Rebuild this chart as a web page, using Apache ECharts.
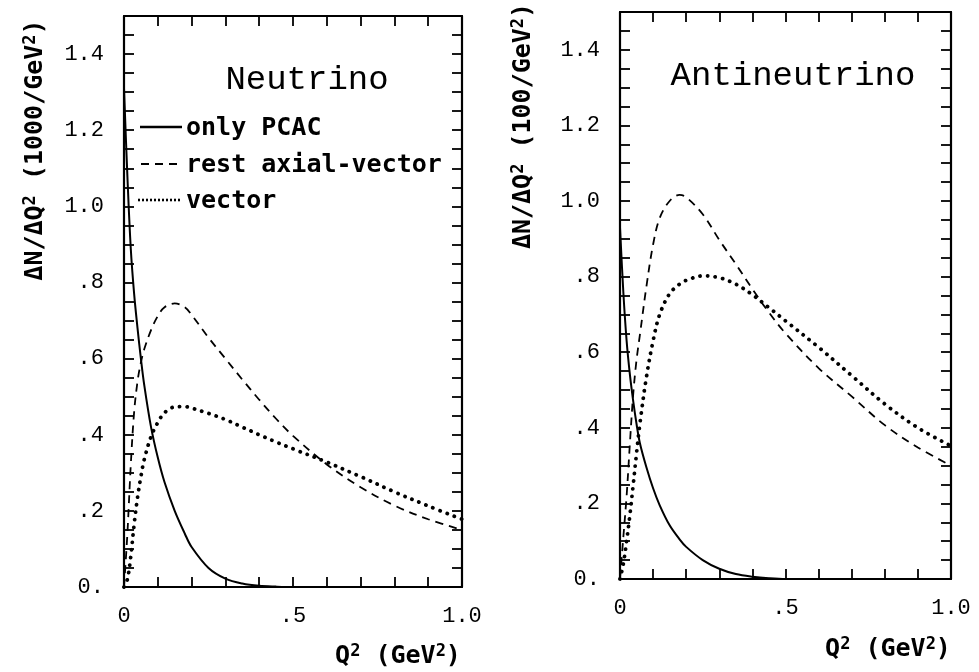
<!DOCTYPE html>
<html>
<head>
<meta charset="utf-8">
<script src="https://cdn.jsdelivr.net/npm/echarts@6/dist/echarts.min.js"></script>
<style>
  html, body { margin: 0; padding: 0; background: #fff; }
  #chart { width: 979px; height: 672px; }
</style>
</head>
<body>
<div id="chart"></div>
<script>
// Q^2 sample points (GeV^2), shared by all curves
var q2 = [0, 0.01, 0.02, 0.03, 0.04, 0.05, 0.06, 0.08, 0.10, 0.12, 0.15, 0.18, 0.20, 0.25, 0.30, 0.35, 0.40, 0.45, 0.50, 0.60, 0.70, 0.80, 0.90, 1.00];

// Neutrino panel
var nuPcac   = [1.31, 1.08, 0.89, 0.77, 0.68, 0.60, 0.53, 0.42, 0.34, 0.275, 0.20, 0.14, 0.105, 0.05, 0.022, 0.009, 0.003, 0.001, 0, 0, 0, 0, 0, 0];
var nuAxial  = [0, 0.14, 0.32, 0.46, 0.54, 0.59, 0.625, 0.675, 0.712, 0.735, 0.745, 0.735, 0.715, 0.655, 0.6, 0.545, 0.492, 0.442, 0.397, 0.322, 0.262, 0.214, 0.178, 0.15];
var nuVector = [0, 0.02, 0.08, 0.165, 0.235, 0.29, 0.335, 0.395, 0.432, 0.458, 0.473, 0.474, 0.47, 0.456, 0.44, 0.42, 0.40, 0.381, 0.363, 0.328, 0.29, 0.25, 0.213, 0.178];

// Antineutrino panel
var anuPcac   = [0.93, 0.76, 0.63, 0.54, 0.47, 0.41, 0.36, 0.295, 0.24, 0.195, 0.142, 0.105, 0.085, 0.05, 0.027, 0.013, 0.006, 0.002, 0, 0, 0, 0, 0, 0];
var anuAxial  = [0, 0.11, 0.22, 0.36, 0.49, 0.58, 0.645, 0.775, 0.885, 0.955, 1.0, 1.016, 1.01, 0.965, 0.897, 0.833, 0.767, 0.705, 0.65, 0.558, 0.483, 0.407, 0.348, 0.30];
var anuVector = [0, 0.04, 0.10, 0.17, 0.25, 0.333, 0.41, 0.535, 0.63, 0.70, 0.755, 0.78, 0.79, 0.802, 0.797, 0.78, 0.752, 0.718, 0.683, 0.613, 0.538, 0.463, 0.40, 0.352];

var legendNames = ['only PCAC', 'rest axial-vector', 'vector'];
var panelTitles = ['Neutrino', 'Antineutrino'];
var yTitles = ['ΔN/ΔQ{s|2} (1000/GeV{s|2})', 'ΔN/ΔQ{s|2} (100/GeV{s|2})'];
var xTitle = 'Q{s|2} (GeV{s|2})';

var mono = 'Liberation Mono';
var boldMono = 'DejaVu Sans Mono';

function pairs(ys) {
    return q2.map(function(q, i) { return [q, ys[i]]; });
}

function xLabel(v) {
    var r = Math.round(v * 10);
    if (r === 0) return '0';
    if (r === 5) return '.5';
    if (r === 10) return '1.0';
    return '';
}

function yLabel(v) {
    var r = Math.round(v * 100);
    if (r % 20 !== 0) return '';
    if (r === 0) return '0.';
    if (r >= 100) return (r / 100).toFixed(1);
    return '.' + (r / 10);
}

var lineAxis = { show: true, onZero: false, lineStyle: { color: '#000', width: 2.2 } };
var tickIn = { show: true, inside: true, length: 10, lineStyle: { color: '#000', width: 1.8 } };

function xAxes(grid, showLabel) {
    return {
        type: 'value', gridIndex: grid, min: 0, max: 1, interval: 0.1,
        position: showLabel ? 'bottom' : 'top',
        axisLine: lineAxis, axisTick: tickIn, splitLine: { show: false },
        axisLabel: showLabel ? { show: true, formatter: xLabel, margin: 18, color: '#000', fontFamily: mono, fontSize: 22 } : { show: false }
    };
}

function yAxes(grid, showLabel) {
    return {
        type: 'value', gridIndex: grid, min: 0, max: 1.5, interval: 0.05,
        position: showLabel ? 'left' : 'right',
        axisLine: lineAxis, axisTick: tickIn, splitLine: { show: false },
        axisLabel: showLabel ? { show: true, formatter: yLabel, margin: 20, color: '#000', fontFamily: mono, fontSize: 22, showMinLabel: true, showMaxLabel: true } : { show: false }
    };
}

var solid = { color: '#000', width: 2, type: 'solid' };
var dashed = { color: '#000', width: 1.8, type: [8, 6] };
var dotted = { color: '#000', width: 3.8, type: [0.1, 7.5], cap: 'round' };

function curve(name, ys, axis, style) {
    return {
        name: name, type: 'line', xAxisIndex: axis, yAxisIndex: axis,
        data: pairs(ys), showSymbol: false, smooth: 0.35,
        lineStyle: style, silent: true, clip: true
    };
}

var titleFont = '34px "' + mono + '"';
var boldFont = 'bold 25px "' + boldMono + '"';
var supRich = { s: { fontSize: 17, fontWeight: 'bold', fontFamily: boldMono, verticalAlign: 'top', padding: [0, 0, 8, 0] } };

function label(x, y, text, font, extra) {
    var el = { type: 'text', x: x, y: y, style: { text: text, font: font, fill: '#000', align: 'center', verticalAlign: 'middle', rich: supRich } };
    if (extra) for (var k in extra) el[k] = extra[k];
    return el;
}

var myChart = echarts.init(document.getElementById('chart'));

var option = {
    backgroundColor: '#fff',
    animation: false,
    grid: [
        { left: 124, right: 517, top: 16, bottom: 85 },
        { left: 620, right: 28, top: 12, bottom: 93 }
    ],
    xAxis: [xAxes(0, true), xAxes(0, false), xAxes(1, true), xAxes(1, false)],
    yAxis: [yAxes(0, true), yAxes(0, false), yAxes(1, true), yAxes(1, false)],
    series: [
        curve(legendNames[0], nuPcac, 0, solid),
        curve(legendNames[1], nuAxial, 0, dashed),
        curve(legendNames[2], nuVector, 0, dotted),
        curve(legendNames[0], anuPcac, 2, solid),
        curve(legendNames[1], anuAxial, 2, dashed),
        curve(legendNames[2], anuVector, 2, dotted)
    ],
    graphic: [
        // panel titles
        label(307, 80, panelTitles[0], titleFont),
        label(793, 76, panelTitles[1], titleFont),
        // legend (neutrino panel)
        { type: 'line', shape: { x1: 140, y1: 127, x2: 182, y2: 127 }, style: { stroke: '#000', lineWidth: 2.4 } },
        { type: 'line', shape: { x1: 141, y1: 164, x2: 182, y2: 164 }, style: { stroke: '#000', lineWidth: 1.8, lineDash: [8, 6] } },
        { type: 'line', shape: { x1: 138, y1: 200, x2: 182, y2: 200 }, style: { stroke: '#000', lineWidth: 2.6, lineDash: [2, 2] } },
        { type: 'text', x: 186, y: 128, style: { text: legendNames[0], font: boldFont, fill: '#000', verticalAlign: 'middle' } },
        { type: 'text', x: 186, y: 165, style: { text: legendNames[1], font: boldFont, fill: '#000', verticalAlign: 'middle' } },
        { type: 'text', x: 186, y: 201, style: { text: legendNames[2], font: boldFont, fill: '#000', verticalAlign: 'middle' } },
        // axis titles
        label(35, 150, yTitles[0], boldFont, { rotation: Math.PI / 2 }),
        label(523, 126, yTitles[1], boldFont, { rotation: Math.PI / 2 }),
        label(398, 656, xTitle, boldFont),
        label(888, 649, xTitle, boldFont)
    ]
};

myChart.setOption(option);
</script>
</body>
</html>
